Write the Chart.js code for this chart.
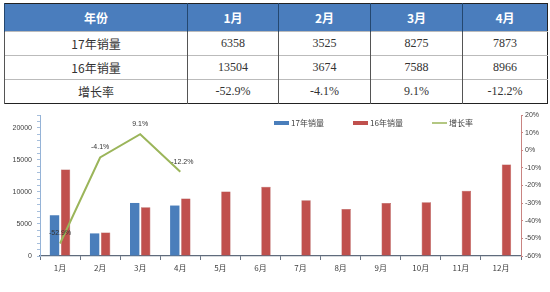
<!DOCTYPE html>
<html>
<head>
<meta charset="utf-8">
<title>销量对比</title>
<script src="https://cdn.jsdelivr.net/npm/chart.js@4/dist/chart.umd.min.js"></script>
<style>
  body { margin: 0; background: #fff; width: 550px; height: 292px; overflow: hidden; position: relative; }
  #sales-table {
    position: absolute; left: 4px; top: 3px; width: 543px; height: 98px;
    border-collapse: collapse; border: 1.5px solid #222;
    font-family: "Liberation Serif", "Noto Sans CJK SC", serif; font-size: 12px; color: #333;
    table-layout: fixed;
  }
  #sales-table th {
    background: #4a7dbd; color: #fff; font-weight: bold; height: 25px; text-align: center;
    border-left: 1px solid #24476f; font-family: "Noto Sans CJK SC", sans-serif; font-size: 12px;
  }
  #sales-table td {
    text-align: center; border-left: 1px solid #555; border-top: 1px solid #bbb; height: 23px; padding: 0;
  }
  #sales-table td.name { font-family: "Noto Sans CJK SC", sans-serif; text-align: center; }
  #chart-box { position: absolute; left: 0; top: 104px; width: 550px; height: 188px; }
</style>
</head>
<body>
<table id="sales-table">
  <colgroup><col style="width:183px"><col style="width:91px"><col style="width:92px"><col style="width:92px"><col style="width:85px"></colgroup>
  <thead><tr id="head-row"></tr></thead>
  <tbody id="table-body"></tbody>
</table>
<div id="chart-box"><canvas id="sales-chart" width="550" height="188"></canvas></div>
<script>
// data
const months = ['1月', '2月', '3月', '4月', '5月', '6月', '7月', '8月', '9月', '10月', '11月', '12月'];
const sales2017 = [6358, 3525, 8275, 7873, null, null, null, null, null, null, null, null];
const sales2016 = [13504, 3674, 7588, 8966, 10050, 10800, 8700, 7350, 8280, 8390, 10200, 14270];
const growthRate = [-52.9, -4.1, 9.1, -12.2, null, null, null, null, null, null, null, null];
const growthLabels = ['-52.9%', '-4.1%', '9.1%', '-12.2%'];
const leftTickLabels = [0, 5000, 10000, 15000, 20000];
const rightTickLabels = [-60, -50, -40, -30, -20, -10, 0, 10, 20];
const seriesNames = ['17年销量', '16年销量', '增长率'];
const tableRowNames = ['17年销量', '16年销量', '增长率'];

// table at the top
const tableMonths = months.slice(0, 4);
const headRow = document.getElementById('head-row');
['年份'].concat(tableMonths).forEach(function(t) {
    const th = document.createElement('th');
    th.textContent = t;
    headRow.appendChild(th);
});
const tableRows = [
    sales2017.slice(0, 4).map(String),
    sales2016.slice(0, 4).map(String),
    growthLabels
];
const body = document.getElementById('table-body');
tableRows.forEach(function(row, i) {
    const tr = document.createElement('tr');
    const first = document.createElement('td');
    first.className = 'name';
    first.textContent = tableRowNames[i];
    tr.appendChild(first);
    row.forEach(function(v) {
        const td = document.createElement('td');
        td.textContent = v;
        tr.appendChild(td);
    });
    body.appendChild(tr);
});

// legend drawn by hand so it sits inside the plot like the original
const legendPlugin = {
    id: 'insideLegend',
    afterDraw(chart) {
        const ctx = chart.ctx;
        const area = chart.chartArea;
        let x = area.left + 234;
        const y = area.top + 8;
        ctx.save();
        ctx.font = '8px "Noto Sans CJK SC", sans-serif';
        ctx.textBaseline = 'middle';
        chart.data.datasets.forEach(function(ds) {
            if (ds.type === 'line') {
                ctx.fillStyle = ds.borderColor;
                ctx.fillRect(x, y - 0.75, 15, 1.5);
            } else {
                ctx.fillStyle = ds.backgroundColor;
                ctx.fillRect(x, y - 2, 15, 4);
            }
            ctx.fillStyle = '#404040';
            ctx.fillText(ds.label, x + 17, y);
            x += 79;
        });
        ctx.restore();
    }
};

// percent labels above the line points
const pointLabelPlugin = {
    id: 'pointLabels',
    afterDatasetsDraw(chart) {
        const meta = chart.getDatasetMeta(2);
        const ctx = chart.ctx;
        ctx.save();
        ctx.font = '7px "Liberation Sans", sans-serif';
        ctx.fillStyle = '#333';
        ctx.textAlign = 'center';
        ctx.textBaseline = 'middle';
        growthLabels.forEach(function(label, i) {
            const p = meta.data[i];
            ctx.fillText(label, p.x + (i === 3 ? 2 : 0), p.y - 10);
        });
        ctx.restore();
    }
};

const ctx = document.getElementById('sales-chart').getContext('2d');
const salesChart = new Chart(ctx, {
    data: {
        labels: months,
        datasets: [{
            type: 'bar',
            label: seriesNames[0],
            data: sales2017,
            backgroundColor: '#4a7ebb',
            borderColor: '#4a7ebb',
            yAxisID: 'y',
            order: 1,
            categoryPercentage: 0.55,
            barPercentage: 0.85
        }, {
            type: 'bar',
            label: seriesNames[1],
            data: sales2016,
            backgroundColor: '#c0504d',
            borderColor: '#a84340',
            borderWidth: 0.5,
            yAxisID: 'y',
            order: 2,
            categoryPercentage: 0.55,
            barPercentage: 0.85
        }, {
            type: 'line',
            label: seriesNames[2],
            data: growthRate,
            borderColor: '#9bb55a',
            backgroundColor: '#9bb55a',
            borderWidth: 2,
            pointRadius: 0,
            tension: 0,
            spanGaps: false,
            yAxisID: 'y1',
            order: 0
        }]
    },
    options: {
        responsive: false,
        animation: false,
        layout: { padding: { top: 11, left: 0, right: 0, bottom: 0 } },
        plugins: {
            legend: { display: false },
            tooltip: { enabled: false }
        },
        scales: {
            x: {
                grid: { drawOnChartArea: false, tickLength: 4, color: '#6b7585' },
                border: { color: '#5f6b7c', width: 1.2 },
                ticks: { color: '#404040', font: { size: 8, family: '"Noto Sans CJK SC", sans-serif' }, padding: 3, maxRotation: 0 },
                afterFit: function(s) { s.height = 36; }
            },
            y: {
                position: 'left',
                min: 0,
                max: 22000,
                afterBuildTicks: function(axis) {
                    const t = [];
                    for (let v = 0; v <= 22000; v += 1000) t.push({ value: v });
                    axis.ticks = t;
                },
                ticks: {
                    autoSkip: false,
                    color: '#404040',
                    font: { size: 7, family: '"Liberation Sans", sans-serif' },
                    padding: 5,
                    callback: function(v) { return leftTickLabels.includes(v) ? String(v) : ''; }
                },
                grid: { drawOnChartArea: false, tickLength: 3, color: '#a7bfdc' },
                border: { color: '#95b3d7' },
                afterFit: function(s) { s.width = 40; }
            },
            y1: {
                position: 'right',
                min: -60,
                max: 20,
                afterBuildTicks: function(axis) {
                    axis.ticks = rightTickLabels.map(function(v) { return { value: v }; });
                },
                ticks: {
                    autoSkip: false,
                    color: '#404040',
                    font: { size: 7, family: '"Liberation Sans", sans-serif' },
                    padding: 2,
                    callback: function(v) { return v + '%'; }
                },
                grid: { drawOnChartArea: false, tickLength: 2, color: '#c98481' },
                border: { color: '#c98481' },
                afterFit: function(s) { s.width = 29; }
            }
        }
    },
    plugins: [legendPlugin, pointLabelPlugin]
});
</script>
</body>
</html>
